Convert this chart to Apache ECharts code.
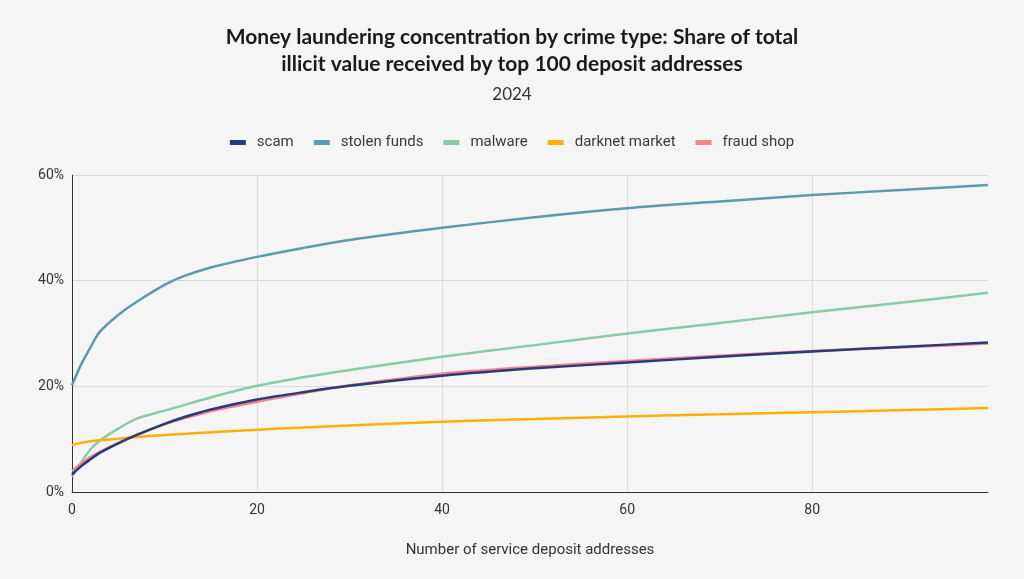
<!DOCTYPE html>
<html>
<head>
<meta charset="utf-8">
<script src="https://cdn.jsdelivr.net/npm/echarts@6/dist/echarts.min.js"></script>
<style>
html,body{margin:0;padding:0;background:#f5f5f5;}
#chart{width:1024px;height:579px;}
</style>
</head>
<body>
<div id="chart"></div>
<script>
var xValues = [0, 1, 2, 3, 5, 7, 10, 12, 15, 20, 25, 30, 40, 50, 60, 70, 80, 90, 99];
var scam = [3.3, 4.9, 6.2, 7.4, 9.2, 10.8, 12.9, 14.1, 15.6, 17.5, 18.9, 20.1, 22.0, 23.4, 24.5, 25.6, 26.6, 27.5, 28.3];
var stolenFunds = [20.2, 24.2, 27.4, 30.3, 33.5, 36.0, 39.2, 40.8, 42.5, 44.5, 46.2, 47.7, 50.0, 52.0, 53.7, 55.0, 56.2, 57.2, 58.1];
var malware = [2.9, 5.6, 8.1, 9.7, 12.0, 13.9, 15.4, 16.4, 17.9, 20.1, 21.7, 23.1, 25.6, 27.8, 30.0, 32.0, 34.0, 35.9, 37.7];
var darknetMarket = [8.9, 9.3, 9.6, 9.8, 10.1, 10.4, 10.8, 11.0, 11.3, 11.8, 12.2, 12.6, 13.3, 13.8, 14.3, 14.7, 15.1, 15.5, 15.9];
var fraudShop = [4.0, 5.4, 6.6, 7.6, 9.3, 10.8, 12.8, 13.9, 15.3, 17.1, 18.7, 20.2, 22.4, 23.7, 24.8, 25.8, 26.7, 27.4, 28.1];
var seriesNames = ['scam', 'stolen funds', 'malware', 'darknet market', 'fraud shop'];
var seriesColors = ['#283a78', '#5b9baa', '#88cca6', '#ffb000', '#f1838f'];
var titleText = 'Money laundering concentration by crime type: Share of total\nillicit value received by top 100 deposit addresses';
var subtitleText = '2024';
var xAxisName = 'Number of service deposit addresses';

function pairs(arr) { return xValues.map(function (x, i) { return [x, arr[i]]; }); }
var allData = [scam, stolenFunds, malware, darknetMarket, fraudShop];

var chart = echarts.init(document.getElementById('chart'), null, {renderer: 'canvas'});
chart.setOption({
  backgroundColor: '#f5f5f5',
  animation: false,
  title: {
    text: titleText,
    subtext: subtitleText,
    left: 'center',
    top: 19,
    itemGap: 8,
    textStyle: {fontFamily: 'Lato', fontWeight: 'bold', fontSize: 21, color: '#1a1a1a', lineHeight: 27},
    subtextStyle: {fontFamily: 'Lato', fontSize: 17, color: '#333333'}
  },
  legend: {
    top: 130,
    left: 'center',
    itemWidth: 16,
    itemHeight: 5,
    itemGap: 20,
    icon: 'rect',
    textStyle: {fontFamily: 'Roboto', fontSize: 15, color: '#3a3a3a', padding: [0, 0, 0, 6]},
    data: seriesNames
  },
  grid: {left: 72, right: 36, top: 175, bottom: 87, containLabel: false},
  xAxis: {
    type: 'value',
    min: 0,
    max: 99,
    interval: 20,
    name: xAxisName,
    nameLocation: 'middle',
    nameGap: 51,
    nameTextStyle: {fontFamily: 'Roboto', fontSize: 15, color: '#333333'},
    axisLine: {show: true, lineStyle: {color: '#333333', width: 1}},
    axisTick: {show: false},
    axisLabel: {fontFamily: 'Roboto', fontSize: 14, color: '#333333', margin: 11, showMaxLabel: false},
    splitLine: {show: true, showMaxLine: false, lineStyle: {color: '#dcdcdc', width: 1}}
  },
  yAxis: {
    type: 'value',
    min: 0,
    max: 60,
    interval: 20,
    axisLine: {show: true, lineStyle: {color: '#333333', width: 1}},
    axisTick: {show: false},
    axisLabel: {fontFamily: 'Roboto', fontSize: 14, color: '#333333', margin: 8, formatter: '{value}%'},
    splitLine: {show: true, lineStyle: {color: '#dcdcdc', width: 1}}
  },
  series: seriesNames.map(function (name, i) {
    return {
      name: name,
      type: 'line',
      data: pairs(allData[i]),
      smooth: 0.3,
      showSymbol: false,
      symbol: 'none',
      color: seriesColors[i],
      lineStyle: {width: 2.5, color: seriesColors[i]},
      z: i === 0 ? 3 : 2
    };
  })
});
</script>
</body>
</html>
